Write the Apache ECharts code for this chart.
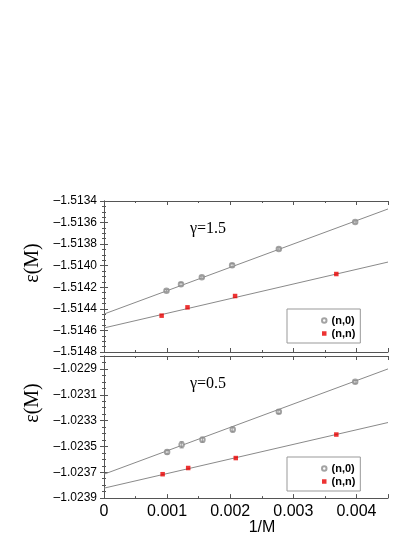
<!DOCTYPE html>
<html>
<head>
<meta charset="utf-8">
<script src="https://cdn.jsdelivr.net/npm/echarts@6/dist/echarts.min.js"></script>
<style>
  html, body { margin: 0; padding: 0; background: #fff; }
  #chart { width: 415px; height: 537px; }
</style>
</head>
<body>
<div id="chart"></div>
<script>
// gamma = 1.5 panel
const topN0X = [0.00099, 0.00122, 0.00155, 0.00203, 0.00277, 0.00398];
const topN0Y = [-1.514232, -1.514172, -1.514107, -1.513996, -1.513845, -1.513595];
const topN0Err = [0.00001, 0.000015, 0.00001, 0.000015, 0.00001, 0.00001];
const topNNX = [0.000913, 0.001323, 0.002077, 0.003681];
const topNNY = [-1.514463, -1.514386, -1.514281, -1.514077];
const topFitN0 = [[0, -1.514448], [0.0045, -1.513474]];
const topFitNN = [[0, -1.514577], [0.0045, -1.513966]];

// gamma = 0.5 panel
const botN0X = [0.00100, 0.00123, 0.00156, 0.00204, 0.00277, 0.00398];
const botN0Y = [-1.023544, -1.023487, -1.023448, -1.023369, -1.023231, -1.023000];
const botN0Err = [0.000015, 0.000025, 0.00002, 0.00002, 0.000015, 0.00001];
const botNNX = [0.000929, 0.001334, 0.002088, 0.003681];
const botNNY = [-1.023715, -1.023667, -1.023590, -1.023408];
const botFitN0 = [[0, -1.023715], [0.0045, -1.022900]];
const botFitNN = [[0, -1.023823], [0.0045, -1.023315]];

const legendNames = ['(n,0)', '(n,n)'];

const frame = '#555';
const lineGray = '#8a8a8a';
const markGray = '#8c8c8c';
const red = '#e80000';

function pairs(xs, ys) {
    return xs.map((x, i) => [x, ys[i]]);
}
function triples(xs, ys, es) {
    return xs.map((x, i) => [x, ys[i], es[i]]);
}
function yFmt(v) {
    return (v < 0 ? '\u2013' : '') + Math.abs(v).toFixed(4);
}

function xAxis(gridIndex, pos, showLabels) {
    return {
        type: 'value', gridIndex: gridIndex, position: pos,
        min: 0, max: 0.0045, interval: 0.001,
        axisLine: { show: true, lineStyle: { color: frame, width: 1 } },
        axisTick: { show: true, inside: true, length: 4, lineStyle: { color: frame } },
        minorTick: { show: true, splitNumber: 2, length: 2, lineStyle: { color: frame } },
        splitLine: { show: false },
        axisLabel: {
            show: showLabels, margin: 5, showMaxLabel: false,
            color: '#000', fontFamily: 'Liberation Sans', fontSize: 16,
            formatter: v => v === 0 ? '0' : v.toFixed(3)
        }
    };
}

function yAxis(gridIndex, pos, min, max, showLabels, showMax) {
    return {
        type: 'value', gridIndex: gridIndex, position: pos,
        min: min, max: max, interval: 0.0002,
        axisLine: { show: true, lineStyle: { color: frame, width: 1 } },
        axisTick: { show: true, inside: true, length: 4, lineStyle: { color: frame } },
        minorTick: { show: true, splitNumber: 4, length: 2, lineStyle: { color: frame } },
        splitLine: { show: false },
        axisLabel: {
            show: showLabels, margin: 7, showMaxLabel: showMax,
            color: '#000', fontFamily: 'Liberation Sans', fontSize: 12,
            formatter: yFmt
        }
    };
}

function errorSeries(xi, yi, data) {
    return {
        type: 'custom', xAxisIndex: xi, yAxisIndex: yi, data: data, z: 5,
        renderItem: function (params, api) {
            const x = api.value(0), y = api.value(1), e = api.value(2);
            const hi = api.coord([x, y + e]);
            const lo = api.coord([x, y - e]);
            const st = { stroke: markGray, lineWidth: 0.8 };
            return {
                type: 'group',
                children: [
                    { type: 'line', shape: { x1: hi[0], y1: hi[1], x2: lo[0], y2: lo[1] }, style: st },
                    { type: 'line', shape: { x1: hi[0] - 2, y1: hi[1], x2: hi[0] + 2, y2: hi[1] }, style: st },
                    { type: 'line', shape: { x1: lo[0] - 2, y1: lo[1], x2: lo[0] + 2, y2: lo[1] }, style: st }
                ]
            };
        }
    };
}

function fitSeries(xi, yi, data) {
    return {
        name: 'fit', type: 'line', xAxisIndex: xi, yAxisIndex: yi, data: data,
        showSymbol: false, symbol: 'none', silent: true,
        lineStyle: { color: lineGray, width: 1 }, z: 2
    };
}

function n0Series(xi, yi, data) {
    return {
        name: '(n,0)', type: 'scatter', xAxisIndex: xi, yAxisIndex: yi, data: data,
        symbol: 'emptyCircle', symbolSize: 4.5,
        itemStyle: { color: markGray, borderColor: markGray, borderWidth: 0.8 }, z: 4
    };
}

function nnSeries(xi, yi, data) {
    return {
        name: '(n,n)', type: 'scatter', xAxisIndex: xi, yAxisIndex: yi, data: data,
        symbol: 'rect', symbolSize: 4.5,
        itemStyle: { color: red }, z: 4
    };
}

function legend(top) {
    return {
        data: legendNames, orient: 'vertical', left: 287, top: top,
        padding: [6, 5, 4, 34], itemGap: 2, itemWidth: 4.5, itemHeight: 4.5,
        borderColor: '#999', borderWidth: 1, selectedMode: false,
        textStyle: { fontFamily: 'Liberation Sans', fontWeight: 'bold', fontSize: 11, color: '#000' }
    };
}

const chart = echarts.init(document.getElementById('chart'));
const option = {
    animation: false,
    backgroundColor: '#fff',
    grid: [
        { left: 104, top: 201, width: 284, height: 151 },
        { left: 104, top: 356, width: 284, height: 143 }
    ],
    xAxis: [
        xAxis(0, 'bottom', false),
        xAxis(0, 'top', false),
        Object.assign(xAxis(1, 'bottom', true), {
            name: '1/M', nameLocation: 'middle', nameGap: 21,
            nameTextStyle: { fontFamily: 'Liberation Sans', fontSize: 16, color: '#000', padding: [0, 0, 0, 32] }
        }),
        xAxis(1, 'top', false)
    ],
    yAxis: [
        yAxis(0, 'left', -1.5148, -1.5134, true, true),
        yAxis(0, 'right', -1.5148, -1.5134, false, false),
        yAxis(1, 'left', -1.0239, -1.0228, true, false),
        yAxis(1, 'right', -1.0239, -1.0228, false, false)
    ],
    legend: [legend(309), legend(457)],
    graphic: [
        { type: 'text', x: 33, y: 263, rotation: Math.PI / 2,
          style: { text: '\u03b5(M)', font: '20px "Liberation Serif"', fill: '#000', align: 'center', verticalAlign: 'middle' } },
        { type: 'text', x: 33, y: 403, rotation: Math.PI / 2,
          style: { text: '\u03b5(M)', font: '20px "Liberation Serif"', fill: '#000', align: 'center', verticalAlign: 'middle' } },
        { type: 'text', x: 190, y: 229,
          style: { text: '\u03b3=1.5', font: '16px "Liberation Serif"', fill: '#000', align: 'left', verticalAlign: 'middle' } },
        { type: 'text', x: 190, y: 384,
          style: { text: '\u03b3=0.5', font: '16px "Liberation Serif"', fill: '#000', align: 'left', verticalAlign: 'middle' } }
    ],
    series: [
        fitSeries(0, 0, topFitN0),
        fitSeries(0, 0, topFitNN),
        errorSeries(0, 0, triples(topN0X, topN0Y, topN0Err)),
        n0Series(0, 0, pairs(topN0X, topN0Y)),
        nnSeries(0, 0, pairs(topNNX, topNNY)),
        fitSeries(2, 2, botFitN0),
        fitSeries(2, 2, botFitNN),
        errorSeries(2, 2, triples(botN0X, botN0Y, botN0Err)),
        n0Series(2, 2, pairs(botN0X, botN0Y)),
        nnSeries(2, 2, pairs(botNNX, botNNY))
    ]
};
chart.setOption(option);
</script>
</body>
</html>
